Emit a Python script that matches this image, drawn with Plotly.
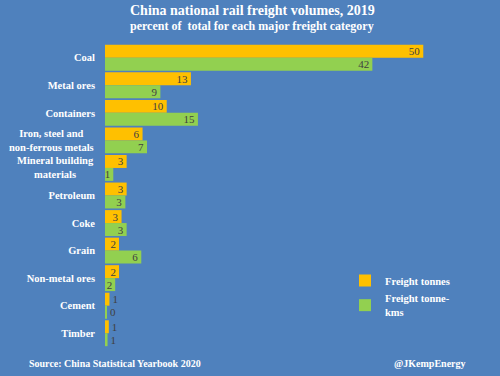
import plotly.graph_objects as go

categories = ["Coal", "Metal ores", "Containers", "Iron, steel and<br>non-ferrous metals",
              "Mineral building<br>materials", "Petroleum", "Coke", "Grain",
              "Non-metal ores", "Cement", "Timber"]
tonnes = [50, 13.5, 9.7, 5.9, 3.4, 3.4, 2.6, 2.2, 2.2, 0.7, 0.6]
tonnes_lbl = ["50", "13", "10", "6", "3", "3", "3", "2", "2", "1", "1"]
tkm = [42, 8.7, 14.6, 6.6, 1.3, 3.2, 3.4, 5.7, 1.6, 0.3, 0.4]
tkm_lbl = ["42", "9", "15", "7", "1", "3", "3", "6", "2", "0", "1"]

BG = "#4F81BD"
SERIF = "Liberation Serif"
W, H = 500, 376
L, R, T, B = 105, 64, 44, 29
PW, PH = W - L - R, H - T - B

def px_x(x):
    return (x - L) / PW

def px_y(y_from_top):
    return (H - y_from_top - B) / PH

def positions(vals):
    return ["outside" if v < 1 else "inside" for v in vals]

# single-line labels as ticks, multi-line (centred) labels as annotations
ticktext = ["" if "<br>" in c else c for c in categories]
multi_anns = [dict(text=c, x=0, xref="paper", y=c, yref="y", xanchor="right", xshift=-9,
                   align="center", showarrow=False,
                   font=dict(size=10.5, color="white", family=SERIF, weight="bold"))
              for c in categories if "<br>" in c]

fig = go.Figure()
fig.add_trace(go.Bar(y=categories, x=tonnes, orientation="h", name="Freight tonnes",
                     marker=dict(color="#FFC000", line=dict(width=0)),
                     text=tonnes_lbl, textposition=positions(tonnes), insidetextanchor="end",
                     textangle=0,
                     textfont=dict(color="#404040", size=11, family=SERIF), cliponaxis=False))
fig.add_trace(go.Bar(y=categories, x=tkm, orientation="h", name="Freight tonne-<br>kms",
                     marker=dict(color="#92D050", line=dict(width=0)),
                     text=tkm_lbl, textposition=positions(tkm), insidetextanchor="end",
                     textangle=0,
                     textfont=dict(color="#404040", size=11, family=SERIF), cliponaxis=False))

fig.update_layout(
    width=W, height=H,
    paper_bgcolor=BG, plot_bgcolor=BG,
    barmode="group", bargap=0.06, bargroupgap=0,
    margin=dict(l=L, r=R, t=T, b=B, autoexpand=False),
    font=dict(family=SERIF, color="white"),
    uniformtext=dict(minsize=11, mode="show"),
    showlegend=True,
    legend=dict(x=px_x(345), xanchor="left", y=px_y(266), yanchor="top",
                bgcolor="rgba(0,0,0,0)",
                font=dict(size=10.5, color="white", family=SERIF, weight="bold"),
                itemwidth=30, tracegroupgap=10, traceorder="normal"),
    xaxis=dict(range=[0, 52], showgrid=False, zeroline=False, showticklabels=False,
               showline=False, ticks=""),
    yaxis=dict(autorange="reversed", showgrid=False, showline=False, ticks="",
               tickmode="array", tickvals=categories, ticktext=ticktext,
               tickfont=dict(size=10.5, color="white", family=SERIF, weight="bold"),
               ticklabelstandoff=9),
    annotations=[
        dict(text="<b>China national rail freight volumes, 2019</b>", x=px_x(252), y=px_y(11),
             xref="paper", yref="paper", showarrow=False, yanchor="middle",
             font=dict(size=14, color="white")),
        dict(text="<b>percent of  total for each major freight category</b>", x=px_x(252), y=px_y(26),
             xref="paper", yref="paper", showarrow=False, yanchor="middle",
             font=dict(size=12, color="white")),
        dict(text="<b>Source: China Statistical Yearbook 2020</b>", x=px_x(27), y=px_y(364),
             xref="paper", yref="paper", showarrow=False, xanchor="left", yanchor="middle",
             font=dict(size=10, color="white")),
        dict(text="<b>@JKempEnergy</b>", x=px_x(468), y=px_y(364),
             xref="paper", yref="paper", showarrow=False, xanchor="right", yanchor="middle",
             font=dict(size=10, color="white")),
    ] + multi_anns,
)
fig.write_html("out.html", config={"displayModeBar": False},
               post_script="document.body.style.margin='0';document.body.style.padding='0';")
